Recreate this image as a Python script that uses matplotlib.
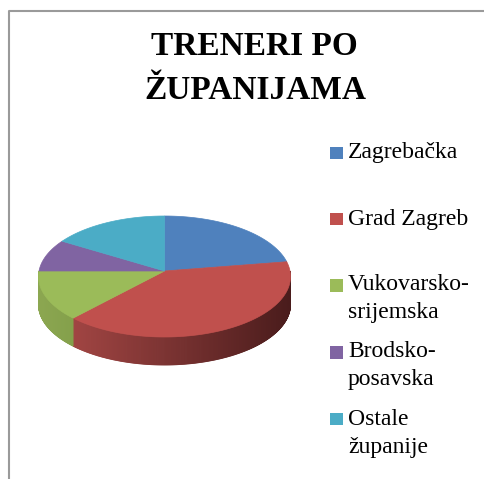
import numpy as np
import matplotlib
matplotlib.use("Agg")
import matplotlib.pyplot as plt
from matplotlib.patches import Polygon, Rectangle
from matplotlib.lines import Line2D

# ---- data ----
title_lines = ["TRENERI PO", "ŽUPANIJAMA"]
categories = ["Zagrebačka", "Grad Zagreb", "Vukovarsko-\nsrijemska",
              "Brodsko-\nposavska", "Ostale\nžupanije"]
values = [22.5, 39.4, 13.1, 8.7, 16.3]
colors = ["#4F81BD", "#C0504D", "#9BBB59", "#8064A2", "#4BACC6"]
side_left = ["#3d6596", "#a14543", "#8ca751", "#664f82", "#3b8aa0"]
side_right = ["#263f5e", "#4a1c1c", "#84a04b", "#403252", "#25566a"]

W, H = 484, 479
fig = plt.figure(figsize=(W / 100, H / 100), dpi=100)
ax = fig.add_axes([0, 0, 1, 1])
ax.set_xlim(0, W)
ax.set_ylim(H, 0)
ax.axis("off")

# border
ax.add_line(Line2D([8.5, 8.5, W], [H, 10.5, 10.5], color="#9a9a9a", lw=1.5))

# ---- pie geometry (perspective-projected disc) ----
cx, cy = 164.5, 271.0
A, B, K = 125.5, 60.0, 0.0909
depth = 28.0


def proj(phi_deg, dz=0.0):
    p = np.radians(phi_deg)
    c, s = np.cos(p), np.sin(p)
    w = 1 + K * s
    return cx + A * c / w, cy - B * s / w + dz


def hexrgb(h):
    return np.array([int(h[i:i + 2], 16) for i in (1, 3, 5)]) / 255.0


total = float(sum(values))
bounds = 90 - 360 * np.concatenate([[0], np.cumsum(values)]) / total

# side walls (visible front part)
vis_lo, vis_hi = -180.0, 0.0
for i in range(len(values)):
    a_hi, a_lo = bounds[i], bounds[i + 1]
    lo, hi = max(a_lo, vis_lo), min(a_hi, vis_hi)
    if hi - lo < 0.01:
        continue
    cl, cr = hexrgb(side_left[i]), hexrgb(side_right[i])
    phis = np.linspace(lo, hi, max(int((hi - lo) / 0.4), 2) + 1)
    xs_all = proj(phis)[0]
    x0, x1 = xs_all.min(), xs_all.max()
    for p0, p1 in zip(phis[:-1], phis[1:]):
        xa, ya = proj(p0)
        xb, yb = proj(p1)
        xm = 0.5 * (xa + xb)
        t = 0.0 if x1 == x0 else (xm - x0) / (x1 - x0)
        col = cl * (1 - t) + cr * t
        poly = Polygon([(xa, ya), (xb, yb), (xb, yb + depth), (xa, ya + depth)],
                       closed=True, facecolor=col, edgecolor=col, lw=0.6)
        ax.add_patch(poly)

# top face wedges
for i in range(len(values)):
    a_hi, a_lo = bounds[i], bounds[i + 1]
    phis = np.linspace(a_hi, a_lo, 200)
    xs, ys = proj(phis)
    pts = [(cx, cy)] + list(zip(xs, ys))
    ax.add_patch(Polygon(pts, closed=True, facecolor=colors[i],
                         edgecolor=colors[i], lw=0.5))

# ---- title ----
serif = ["Liberation Serif", "DejaVu Serif"]
ax.text(254, 55, title_lines[0], ha="center", va="baseline", fontsize=24,
        fontweight="bold", family=serif)
ax.text(255, 99, title_lines[1], ha="center", va="baseline", fontsize=24,
        fontweight="bold", family=serif)

# ---- legend ----
sq_y = [152.5, 218.5, 285.0, 352.0, 418.5]
base_y = [158, 225, 290, 357, 425]
line_gap = 28
for i, lab in enumerate(categories):
    ax.add_patch(Rectangle((330, sq_y[i] - 6), 12.5, 12.5, facecolor=colors[i],
                           edgecolor="none"))
    for j, part in enumerate(lab.split("\n")):
        ax.text(348, base_y[i] + j * line_gap, part, ha="left", va="baseline",
                fontsize=17, family=serif, color="#000000")

fig.savefig("out.png", dpi=100)
